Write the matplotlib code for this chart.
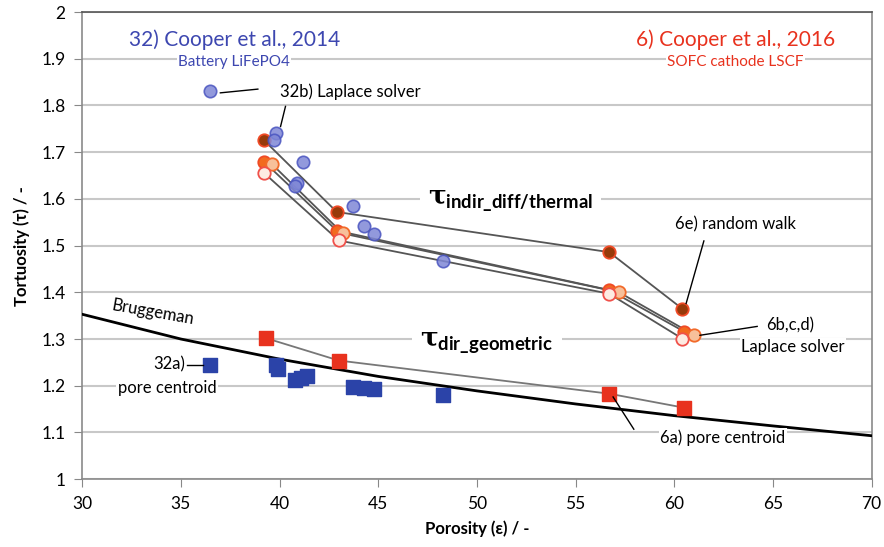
import matplotlib
matplotlib.use('Agg')
import matplotlib.pyplot as plt

plt.rcParams['font.family'] = ['Lato', 'DejaVu Sans']
plt.rcParams['mathtext.fontset'] = 'custom'
plt.rcParams['mathtext.it'] = 'DejaVu Serif:bold'
plt.rcParams['mathtext.rm'] = 'DejaVu Serif:bold'
plt.rcParams['mathtext.bf'] = 'Lato:bold'

# 32) Cooper et al., 2014 - battery LiFePO4
lfp_laplace_eps = [36.5, 39.8, 39.7, 41.2, 40.9, 40.8, 43.7, 44.3, 44.8, 48.3]
lfp_laplace_tau = [1.830, 1.742, 1.727, 1.680, 1.634, 1.627, 1.585, 1.541, 1.525, 1.468]
lfp_centroid_eps = [36.5, 39.8, 39.9, 40.8, 41.1, 41.4, 43.7, 44.3, 44.8, 48.3]
lfp_centroid_tau = [1.245, 1.245, 1.236, 1.212, 1.217, 1.221, 1.197, 1.195, 1.194, 1.181]

# 6) Cooper et al., 2016 - SOFC cathode LSCF
lscf_walk_eps = [39.2, 42.9, 56.7, 60.4]
lscf_walk_tau = [1.726, 1.572, 1.486, 1.365]
lscf_b_eps = [39.2, 42.9, 56.7, 60.5]
lscf_b_tau = [1.680, 1.532, 1.405, 1.316]
lscf_c_eps = [39.6, 43.2, 57.2, 61.0]
lscf_c_tau = [1.675, 1.526, 1.400, 1.309]
lscf_d_eps = [39.2, 43.0, 56.7, 60.4]
lscf_d_tau = [1.656, 1.511, 1.397, 1.301]
lscf_centroid_eps = [39.3, 43.0, 56.7, 60.5]
lscf_centroid_tau = [1.302, 1.254, 1.183, 1.153]

# Bruggeman reference curve
brugg_eps = [30, 35, 40, 45, 50, 55, 60, 65, 70]
brugg_tau = [1.353, 1.300, 1.257, 1.220, 1.189, 1.161, 1.136, 1.114, 1.093]

blue = '#3d47b0'
red = '#e8321e'
line_grey = '#555555'
white_box = dict(facecolor='white', edgecolor='none', pad=1)

fig = plt.figure(figsize=(8.84, 5.47), dpi=100)
ax = fig.add_axes([0.093, 0.124, 0.893, 0.854])

ax.plot(brugg_eps, brugg_tau, color='black', lw=2, zorder=3)

# LSCF series: connecting lines then markers
series = [
    (lscf_walk_eps, lscf_walk_tau, '#973a0a', '#f04a26'),
    (lscf_b_eps, lscf_b_tau, '#f26a1e', '#f04a26'),
    (lscf_c_eps, lscf_c_tau, '#f7c09a', '#f26a2a'),
    (lscf_d_eps, lscf_d_tau, '#fdebe2', '#f0504a'),
]
for xs, ys, fc, ec in series:
    ax.plot(xs, ys, color=line_grey, lw=1.3, zorder=4)
for xs, ys, fc, ec in series:
    ax.scatter(xs, ys, s=80, facecolor=fc, edgecolor=ec, linewidth=1.3, zorder=5)

ax.plot(lscf_centroid_eps, lscf_centroid_tau, color='#777777', lw=1.3, zorder=4)
ax.scatter(lscf_centroid_eps, lscf_centroid_tau, s=100, marker='s', color=red, zorder=5)

ax.scatter(lfp_laplace_eps, lfp_laplace_tau, s=80, facecolor='#7f87d6', edgecolor='#4a55c0',
           linewidth=1.2, alpha=0.85, zorder=6)
ax.scatter(lfp_centroid_eps, lfp_centroid_tau, s=90, marker='s', color='#2b43a8', zorder=5)

ax.set_xlim(30, 70)
ax.set_ylim(1, 2)
ax.set_xticks(range(30, 71, 5))
ax.set_yticks([1 + 0.1 * i for i in range(11)])
ax.set_yticklabels(['1', '1.1', '1.2', '1.3', '1.4', '1.5', '1.6', '1.7', '1.8', '1.9', '2'])
ax.yaxis.grid(True, color='#c8c8c8', lw=1.5, zorder=0)
ax.set_axisbelow(True)
ax.tick_params(axis='both', direction='out', length=6, color='#888888', labelsize=12.5, pad=6)
for side in ['left', 'bottom', 'right']:
    ax.spines[side].set_color('#8a8a8a')
ax.spines['top'].set_color('#555555')
for sp in ax.spines.values():
    sp.set_linewidth(1.2)

ax.set_xlabel('Porosity (ε) / -', fontsize=12, fontweight='bold', labelpad=6)
ax.set_ylabel('Tortuosity (τ) / -', fontsize=12, fontweight='bold', labelpad=8)

# Headings for both studies
ax.text(37.7, 1.941, '32) Cooper et al., 2014', color=blue, fontsize=15, ha='center', va='center',
        bbox=dict(facecolor='white', edgecolor='none', pad=5), zorder=7)
ax.text(37.7, 1.894, 'Battery LiFePO4', color=blue, fontsize=11, ha='center', va='center',
        bbox=white_box, zorder=7)
ax.text(63.1, 1.941, '6) Cooper et al., 2016', color=red, fontsize=15, ha='center', va='center',
        bbox=dict(facecolor='white', edgecolor='none', pad=5), zorder=7)
ax.text(63.1, 1.894, 'SOFC cathode LSCF', color=red, fontsize=11, ha='center', va='center',
        bbox=white_box, zorder=7)

ax.text(51.7, 1.595, r'$\tau_{\mathbf{indir\_diff/thermal}}$', fontsize=19, ha='center', va='center',
        bbox=dict(facecolor='white', edgecolor='none', pad=6), zorder=7)
ax.text(50.5, 1.29, r'$\tau_{\mathbf{dir\_geometric}}$', fontsize=19, ha='center', va='center',
        bbox=dict(facecolor='white', edgecolor='none', pad=6), zorder=7)

# Annotations
ax.text(40.0, 1.829, '32b) Laplace solver', fontsize=12, ha='left', va='center', zorder=7)
ax.plot([37.0, 38.9], [1.827, 1.835], color='black', lw=1, zorder=7)
ax.plot([40.3, 40.05], [1.798, 1.755], color='black', lw=1, zorder=7)

ax.text(63.1, 1.545, '6e) random walk', fontsize=12, ha='center', va='center', zorder=7)
ax.plot([61.5, 60.6], [1.51, 1.376], color='black', lw=1, zorder=7)

ax.text(65.85, 1.329, '6b,c,d)', fontsize=12, ha='center', va='center', zorder=7)
ax.text(66.0, 1.283, 'Laplace solver', fontsize=12, ha='center', va='center',
        bbox=white_box, zorder=7)
ax.plot([64.2, 61.3], [1.327, 1.308], color='black', lw=1, zorder=7)

ax.text(35.2, 1.245, '32a)', fontsize=12, ha='right', va='center', zorder=7)
ax.plot([35.3, 36.1], [1.245, 1.245], color='black', lw=1, zorder=7)
ax.text(34.3, 1.196, 'pore centroid', fontsize=12, ha='center', va='center',
        bbox=white_box, zorder=7)

ax.text(62.45, 1.088, '6a) pore centroid', fontsize=12, ha='center', va='center',
        bbox=white_box, zorder=7)
ax.plot([56.9, 57.95], [1.176, 1.107], color='black', lw=1, zorder=7)

ax.text(33.6, 1.357, 'Bruggeman', fontsize=12, ha='center', va='center', rotation=-10, zorder=7)

fig.savefig('out.png', dpi=100)
